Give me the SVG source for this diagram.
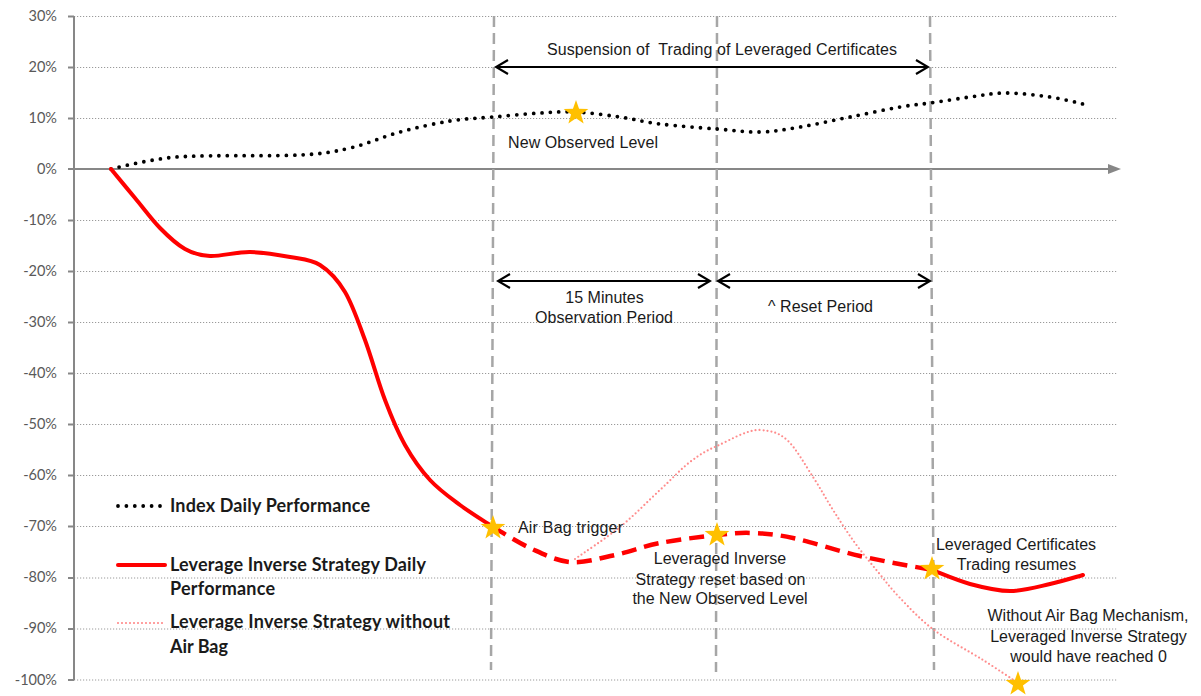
<svg xmlns="http://www.w3.org/2000/svg" width="1201" height="696" viewBox="0 0 1201 696">
<style>
.grid{stroke:#9a9a9a;stroke-width:1;stroke-dasharray:1.2 1.8;fill:none}
.ax{stroke:#878787;stroke-width:2;fill:none}
.vd{stroke:#a6a6a6;stroke-width:2.5;stroke-dasharray:11 6;fill:none}
.lbl{font-family:Lato,"Liberation Sans",sans-serif;font-size:14.5px;fill:#595959;text-anchor:end}
.leg{font-family:Lato,"Noto Sans",sans-serif;font-size:18px;font-weight:bold;fill:#1a1a1a}
.ann{font-family:"Liberation Sans",Arial,sans-serif;font-size:16px;fill:#1a1a1a}
.mid{text-anchor:middle}
.idx{stroke:#000;stroke-width:3.8;stroke-linecap:round;stroke-dasharray:0 8.4;fill:none}
.red{stroke:#ff0000;stroke-width:4;fill:none;stroke-linecap:round;stroke-linejoin:round}
.redd{stroke:#ff0000;stroke-width:4.5;fill:none;stroke-dasharray:15 8}
.pink{stroke:#ff8c8c;stroke-width:2.2;fill:none;stroke-linecap:round;stroke-dasharray:0 4}
.arr{stroke:#000;stroke-width:2;fill:none;marker-start:url(#ah);marker-end:url(#ah)}
.star{fill:#ffc000}
</style>
<defs>
<marker id="ah" viewBox="-14 -8 16 16" refX="0" refY="0" markerWidth="16" markerHeight="16" markerUnits="userSpaceOnUse" orient="auto-start-reverse">
<path d="M-12,-7 L0,0 L-12,7" fill="none" stroke="#000" stroke-width="2.2" stroke-linejoin="miter"/>
</marker>
<path id="st" d="M0,-13 L3.06,-4.21 L12.36,-4.02 L4.95,1.61 L7.64,10.52 L0,5.2 L-7.64,10.52 L-4.95,1.61 L-12.36,-4.02 L-3.06,-4.21 Z"/>
</defs>
<rect width="1201" height="696" fill="#fff"/>
<g id="gridlines">
<path class="grid" d="M74,16.5H1118M74,67.5H1118M74,118.5H1118M74,220.5H1118M74,271.5H1118M74,322.5H1118M74,373.5H1118M74,424.5H1118M74,475.5H1118M74,526.5H1118M74,578H1118M74,629H1118M74,680H1118"/>
</g>
<g id="axes">
<path class="ax" d="M74,16V680"/>
<path class="ax" d="M68,16.5H74M68,67.5H74M68,118.5H74M68,169H74M68,220.5H74M68,271.5H74M68,322.5H74M68,373.5H74M68,424.5H74M68,475.5H74M68,526.5H74M68,578H74M68,629H74M68,680H74"/>
<path class="ax" d="M74,169H1110"/>
<path d="M1108,164 L1121,169 L1108,174 Z" fill="#878787"/>
</g>
<g id="axis-labels">
<text class="lbl" x="57" y="21">30%</text>
<text class="lbl" x="57" y="72">20%</text>
<text class="lbl" x="57" y="123">10%</text>
<text class="lbl" x="57" y="174">0%</text>
<text class="lbl" x="57" y="225">-10%</text>
<text class="lbl" x="57" y="276">-20%</text>
<text class="lbl" x="57" y="327">-30%</text>
<text class="lbl" x="57" y="378">-40%</text>
<text class="lbl" x="57" y="429">-50%</text>
<text class="lbl" x="57" y="480">-60%</text>
<text class="lbl" x="57" y="531">-70%</text>
<text class="lbl" x="57" y="582">-80%</text>
<text class="lbl" x="57" y="633">-90%</text>
<text class="lbl" x="57" y="685">-100%</text>
</g>
<g id="phase-lines">
<path class="vd" d="M494,16 L491,670"/>
<path class="vd" d="M717,16 L716,672"/>
<path class="vd" d="M930,16 L934,670"/>
</g>
<g id="series">
<path id="index-line" class="idx" d="M111,169 C119,167 145,161 160,159 C174.8,156.8 176.7,156.7 200,156 C223.3,155.3 275,156.3 300,155 C325,153.7 333.3,151.8 350,148 C366.7,144.2 383.3,136.5 400,132 C416.7,127.5 434.5,123.5 450,121 C465.5,118.5 478,118.3 493,117 C508,115.7 526.2,113.8 540,113 C553.8,112.2 562.7,111.3 576,112 C589.3,112.7 606,115 620,117 C634,119 643.8,122 660,124 C676.2,126 700.3,127.7 717,129 C733.7,130.3 746.2,132.3 760,132 C773.8,131.7 785,129.5 800,127 C815,124.5 833.3,120.3 850,117 C866.7,113.7 886.7,109.3 900,107 C913.3,104.7 918.3,104.7 930,103 C941.7,101.3 957.3,98.7 970,97 C982.7,95.3 992.7,93 1006,93 C1019.3,93 1037.2,95.2 1050,97 C1062.8,98.8 1077.5,102.8 1083,104"/>
<path id="pink-line" class="pink" d="M575,559 C582.5,553.7 605.8,538.5 620,527 C634.2,515.5 648.3,500.8 660,490 C671.7,479.2 680.5,469.3 690,462 C699.5,454.7 705.3,451.3 717,446 C728.7,440.7 748.3,429 760,430 C771.7,431 778.2,432.2 787,440 C795.8,447.8 805.3,465.3 813,477 C820.7,488.7 826,499 833,510 C840,521 847.5,532.7 855,543 C862.5,553.3 870.5,562.8 878,572 C885.5,581.2 890.7,588.3 900,598 C909.3,607.7 920.2,619.7 934,630 C947.8,640.3 969,651.2 983,660 C997,668.8 1012.2,679.2 1018,683"/>
<path id="red-line" class="red" d="M111,169 C115,173.8 126.8,188.2 135,198 C143.2,207.8 151.7,219.5 160,228 C168.3,236.5 176.7,244.3 185,249 C193.3,253.7 199.2,255.5 210,256 C220.8,256.5 236.7,251.8 250,252 C263.3,252.2 278.3,254.8 290,257 C301.7,259.2 310.8,259.2 320,265 C329.2,270.8 337.5,279.5 345,292 C352.5,304.5 358.3,322 365,340 C371.7,358 378.3,382.5 385,400 C391.7,417.5 397.5,431.7 405,445 C412.5,458.3 420.8,470 430,480 C439.2,490 449.5,497.2 460,505 C470.5,512.8 487.5,523.3 493,527"/>
<path id="red-dashed" class="redd" d="M493,527 C499.2,530.5 517.2,542.2 530,548 C542.8,553.8 555.8,560.8 570,562 C584.2,563.2 600,558.2 615,555 C630,551.8 643,546.3 660,543 C677,539.7 701.5,536.7 717,535 C732.5,533.3 740.3,532.5 753,533 C765.7,533.5 775.2,534.2 793,538 C810.8,541.8 836.8,550.7 860,556 C883.2,561.3 920,567.7 932,570"/>
<path id="red-end" class="red" d="M932,570 C938.3,572.3 957,580.5 970,584 C983,587.5 996.7,591 1010,591 C1023.3,591 1037.8,586.7 1050,584 C1062.2,581.3 1077.5,576.5 1083,575"/>
</g>
<g id="range-arrows">
<line class="arr" x1="496" y1="67" x2="928" y2="67"/>
<line class="arr" x1="498" y1="281" x2="710" y2="281"/>
<line class="arr" x1="718" y1="281" x2="930" y2="281"/>
</g>
<g id="stars">
<use href="#st" class="star" x="576" y="113"/>
<use href="#st" class="star" x="493" y="528"/>
<use href="#st" class="star" x="717" y="535"/>
<use href="#st" class="star" x="932" y="569"/>
<use href="#st" class="star" x="1018" y="684"/>
</g>
<g id="annotations">
<text class="ann" x="547" y="55" textLength="350" xml:space="preserve">Suspension of  Trading of Leveraged Certificates</text>
<text class="ann" x="508" y="148" textLength="150">New Observed Level</text>
<text class="ann mid" x="604.5" y="303">15 Minutes</text>
<text class="ann mid" x="604" y="323" textLength="138">Observation Period</text>
<text class="ann" x="768" y="312" textLength="105">^ Reset Period</text>
<text class="ann" x="518" y="533" textLength="105">Air Bag trigger</text>
<text class="ann mid" x="720" y="564">Leveraged Inverse</text>
<text class="ann mid" x="720.5" y="585">Strategy reset based on</text>
<text class="ann mid" x="720" y="604">the New Observed Level</text>
<text class="ann mid" x="1016" y="550">Leveraged Certificates</text>
<text class="ann mid" x="1016.5" y="570">Trading resumes</text>
<text class="ann mid" x="1088" y="621">Without Air Bag Mechanism,</text>
<text class="ann mid" x="1088.5" y="642">Leveraged Inverse Strategy</text>
<text class="ann mid" x="1088.5" y="662">would have reached 0</text>
</g>
<g id="legend">
<path class="idx" d="M118,506 H163"/>
<text class="leg" x="170" y="512" textLength="200">Index Daily Performance</text>
<path class="red" d="M118,565 H165" stroke-linecap="butt"/>
<text class="leg" x="170" y="571" textLength="256">Leverage Inverse Strategy Daily</text>
<text class="leg" x="170" y="595" textLength="105">Performance</text>
<path class="pink" d="M118,623 H163"/>
<text class="leg" x="170" y="628" textLength="280">Leverage Inverse Strategy without</text>
<text class="leg" x="170" y="653" textLength="58">Air Bag</text>
</g>
</svg>
